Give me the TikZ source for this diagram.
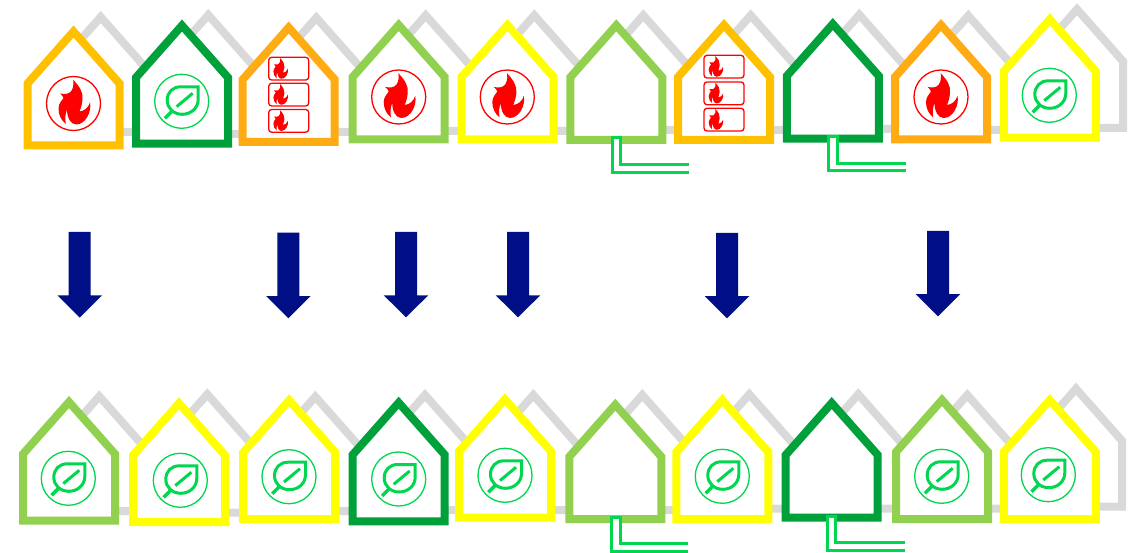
\documentclass[tikz,border=0pt]{standalone}
\definecolor{cAmber}{HTML}{FFC000}
\definecolor{cOrange}{HTML}{FFAB14}
\definecolor{cDark}{HTML}{00A03A}
\definecolor{cLime}{HTML}{92D050}
\definecolor{cYellow}{HTML}{FFFF00}
\definecolor{cGrey}{HTML}{D9D9D9}
\definecolor{cLeaf}{HTML}{00D64F}
\definecolor{cNavy}{HTML}{000F85}
\tikzset{
  houseline/.style={line width=8pt,miter limit=10,fill=white},
  greyline/.style={line width=8pt,miter limit=10,draw=cGrey},
  iconring/.style={line width=1.3pt},
  flamebox/.style={draw=red,line width=1.3pt,rounded corners=3pt},
  pipeline/.style={draw=cLeaf,line width=3pt,fill=white},
  downarrow/.style={fill=cNavy}
}
% cx, outer top, outer bottom, options
\newcommand\hshape[4]{%
  \draw[#4] (#1,#2+6) -- (#1+46,#2+58) -- (#1+46,#3-4) -- (#1-46,#3-4) -- (#1-46,#2+58) -- cycle;}
\newcommand\flameat[3]{%
  \fill[red,shift={(#1,#2)},scale=#3]
   (-0.3,-23.8) .. controls (6,-17) and (10,-11) .. (9,-4)
   .. controls (8.7,1) and (7.5,4) .. (6,8)
   .. controls (11,7.5) and (15,4) .. (16.5,-1.2)
   .. controls (18.5,8) and (12,21) .. (2.7,21)
   .. controls (-3,21) and (-6.5,14) .. (-6.5,6)
   .. controls (-8.5,11) and (-8.5,16) .. (-7.7,20.3)
   .. controls (-12.5,17) and (-15,11) .. (-15,5)
   .. controls (-15,0) and (-11.5,-3) .. (-10,-5.5)
   .. controls (-10.5,-7) and (-12,-9) .. (-13.5,-10)
   .. controls (-11,-9.5) and (-8,-9) .. (-4.5,-10.5)
   .. controls (-1,-12) and (0.8,-18) .. (-0.3,-23.8) -- cycle;}
\newcommand\fireicon[2]{%
  \draw[iconring,red] (#1,#2) circle (27);
  \flameat{#1}{#2}{1}}
\newcommand\leaficon[2]{%
  \begin{scope}[shift={(#1,#2)},draw=cLeaf]
    \draw[iconring] (0,0) circle (27);
    \draw[line width=3pt,miter limit=10] (-1,-14.5) -- (16.5,-14.5) -- (16.5,-2)
      .. controls (16.5,7) and (9,13) .. (0.5,13)
      .. controls (-8,13) and (-14.5,7) .. (-14.5,-1)
      .. controls (-14.5,-9) and (-9,-14.5) .. (-1,-14.5) -- cycle;
    \draw[line width=3pt] (-5,5.3) -- (11,-8);
    \draw[line width=3.4pt] (-16.7,17) -- (-10,10.3);
  \end{scope}}
% left x, top y of first box, then top y of the others
\newcommand\flamestack[4]{%
  \foreach \ty in {#2,#3,#4}{%
    \draw[flamebox] (#1,\ty) rectangle (#1+40,\ty+22.7);
    \flameat{#1+11.6}{\ty+11.8}{0.46}}}
% left x, right x, top, inner y, outer y, end x
\newcommand\pipe[6]{%
  \draw[pipeline] (#6,#5) -- (#1,#5) -- (#1,#3) -- (#2,#3) -- (#2,#4) -- (#6,#4);}
% cx, top, head y, tip y
\newcommand\downarr[4]{%
  \fill[downarrow] (#1-11,#2) -- (#1+11,#2) -- (#1+11,#3) -- (#1+22.3,#3) -- (#1,#4) -- (#1-22.3,#3) -- (#1-11,#3) -- cycle;}
\begin{document}
\begin{tikzpicture}[x=1pt,y=-1pt]
\useasboundingbox (0,0) rectangle (1140,553);
% grey houses, top row
\foreach \c/\t/\b in {100.7/11/136,208.3/9/138,316.3/11.7/136,425.7/9.3/135,534.3/9.3/135,643.3/9.3/134,750.7/9.3/134,859.3/8.7/133,968.3/9.7/134,1077/3.3/132}
  {\hshape{\c}{\t}{\b}{greyline}}
% grey houses, bottom row
\foreach \c/\t/\b in {99.3/390.3/515,207.3/388.3/516.7,315.3/390.7/515,425/389/514,533.3/389/514,642.3/389/514,749.3/388.3/512.7,858.3/388.3/512.7,967.3/389/512.7,1076/382.7/510.7}
  {\hshape{\c}{\t}{\b}{greyline}}
% coloured houses, top row
\foreach \c/\t/\b/\k in {73.5/25.5/149.5/cAmber,182/19.5/147.7/cDark,288.7/21.5/146/cOrange,398.7/19/143.3/cLime,507.5/19/143.3/cYellow,616.3/19.3/144/cLime,724/19/144/cAmber,832.8/18/142.7/cDark,941/19/143.3/cOrange,1049.8/13.3/141.7/cYellow}
  {\hshape{\c}{\t}{\b}{houseline,draw=\k}}
% coloured houses, bottom row
\foreach \c/\t/\b/\k in {69/396/524.7/cLime,179/397.3/526/cYellow,289.2/394.3/523/cYellow,398.7/396.7/525.3/cDark,505/393.3/521.7/cYellow,615.3/398.7/523/cLime,722.3/394/523/cYellow,831.7/397/521.7/cDark,942/394/523/cLime,1049.8/394/523/cYellow}
  {\hshape{\c}{\t}{\b}{houseline,draw=\k}}
% icons, top row
\fireicon{73.5}{103.5}
\leaficon{181.7}{101.3}
\flamestack{268.7}{57.3}{83.3}{109.5}
\fireicon{398.7}{97}
\fireicon{507.3}{97}
\flamestack{704}{55.3}{82}{108.3}
\fireicon{941}{97}
\leaficon{1049.3}{95.3}
% icons, bottom row
\leaficon{68.3}{478.3}
\leaficon{180.3}{480.3}
\leaficon{289}{476.7}
\leaficon{398.7}{479}
\leaficon{505}{475.3}
\leaficon{722.3}{476.3}
\leaficon{941.7}{476.3}
\leaficon{1048.3}{474.7}
% pipes
\pipe{612.2}{620.7}{138}{164.3}{172.3}{689}
\pipe{828.7}{837}{136.7}{163.3}{171}{905.7}
\pipe{611}{620}{517.3}{543.7}{551.7}{688}
\pipe{827}{835.7}{516}{542.3}{550.3}{905}
% arrows
\downarr{79.7}{232}{295.3}{317.7}
\downarr{288.3}{232.7}{296}{318.3}
\downarr{406}{232}{295.3}{317.3}
\downarr{518}{232}{295.3}{317.3}
\downarr{727}{233}{296}{318.3}
\downarr{938}{231}{294}{316.3}
\end{tikzpicture}
\end{document}
